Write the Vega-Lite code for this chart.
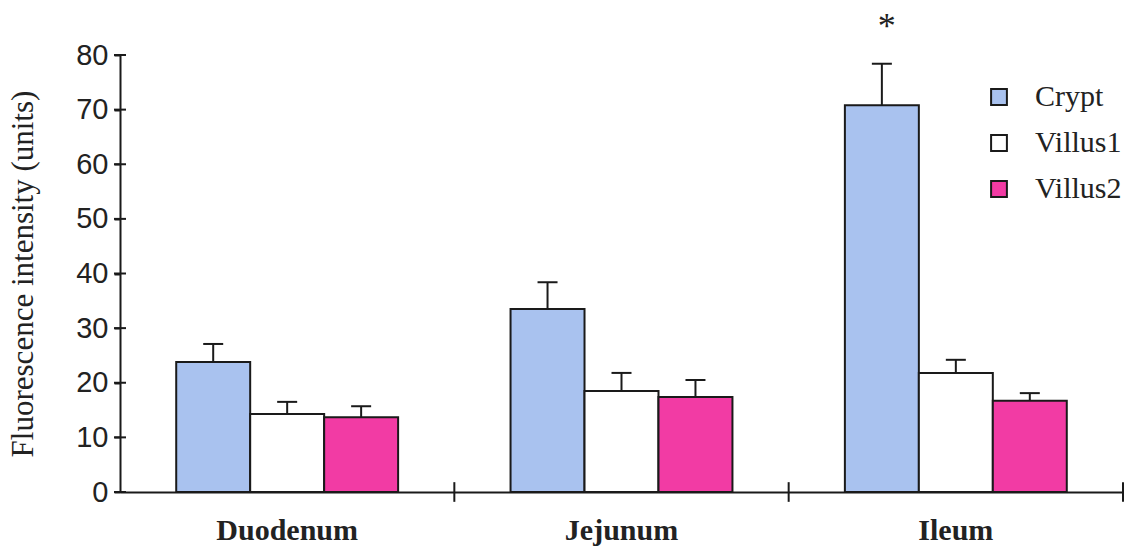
{
  "$schema": "https://vega.github.io/schema/vega-lite/v6.json",
  "width": 1003,
  "height": 437,
  "autosize": "none",
  "padding": {"left": 120, "top": 55, "right": 6, "bottom": 57},
  "background": "white",
  "config": {
    "view": {"stroke": null},
    "axis": {"domainColor": "#1a1a1a", "domainWidth": 2, "tickColor": "#1a1a1a", "tickWidth": 2, "grid": false},
    "legend": {
      "orient": "none", "legendX": 864, "legendY": 27,
      "labelFont": "Liberation Serif", "labelFontSize": 30, "labelColor": "#222",
      "symbolType": "square", "symbolSize": 250, "symbolStrokeWidth": 2, "symbolStrokeColor": "#1a1a1a",
      "rowPadding": 16, "labelOffset": 21
    }
  },
  "datasets": {
    "bars": [
      {"region": "Duodenum", "group": "Crypt", "value": 23.8, "upper": 27.1},
      {"region": "Duodenum", "group": "Villus1", "value": 14.3, "upper": 16.5},
      {"region": "Duodenum", "group": "Villus2", "value": 13.7, "upper": 15.7},
      {"region": "Jejunum", "group": "Crypt", "value": 33.5, "upper": 38.4},
      {"region": "Jejunum", "group": "Villus1", "value": 18.5, "upper": 21.8},
      {"region": "Jejunum", "group": "Villus2", "value": 17.4, "upper": 20.5},
      {"region": "Ileum", "group": "Crypt", "value": 70.8, "upper": 78.4},
      {"region": "Ileum", "group": "Villus1", "value": 21.8, "upper": 24.2},
      {"region": "Ileum", "group": "Villus2", "value": 16.7, "upper": 18.1}
    ],
    "seps": [
      {"region": "Duodenum", "lo": -1.8, "hi": 1.8},
      {"region": "Jejunum", "lo": -1.8, "hi": 1.8},
      {"region": "Ileum", "lo": -1.8, "hi": 1.8}
    ],
    "yticks": [
      {"region": "Duodenum", "v": 0}, {"region": "Duodenum", "v": 10}, {"region": "Duodenum", "v": 20},
      {"region": "Duodenum", "v": 30}, {"region": "Duodenum", "v": 40}, {"region": "Duodenum", "v": 50},
      {"region": "Duodenum", "v": 60}, {"region": "Duodenum", "v": 70}, {"region": "Duodenum", "v": 80}
    ],
    "stars": [
      {"region": "Ileum", "group": "Crypt", "label": "*", "pos": 85.2}
    ]
  },
  "layer": [
    {
      "data": {"name": "bars"},
      "mark": {"type": "bar", "stroke": "#1a1a1a", "strokeWidth": 2},
      "encoding": {
        "x": {
          "field": "region", "type": "nominal",
          "scale": {"domain": ["Duodenum", "Jejunum", "Ileum"], "paddingInner": 0, "paddingOuter": 0},
          "axis": {"title": null, "ticks": false, "labelAngle": 0, "labelFont": "Liberation Serif", "labelFontWeight": "bold", "labelFontSize": 30, "labelColor": "#222", "labelPadding": 23}
        },
        "xOffset": {
          "field": "group", "type": "nominal",
          "scale": {"domain": ["Crypt", "Villus1", "Villus2"], "paddingInner": 0, "paddingOuter": 0.76}
        },
        "y": {
          "field": "value", "type": "quantitative",
          "scale": {"domain": [0, 80], "nice": false},
          "axis": {
            "values": [0, 10, 20, 30, 40, 50, 60, 70, 80],
            "title": "Fluorescence intensity (units)",
            "titleFont": "Liberation Serif", "titleFontSize": 31, "titleFontWeight": "normal", "titleColor": "#222", "titlePadding": 36,
            "labelFont": "Liberation Sans", "labelFontSize": 29, "labelColor": "#222", "labelPadding": 6, "tickSize": 6
          }
        },
        "color": {
          "field": "group", "type": "nominal",
          "scale": {"domain": ["Crypt", "Villus1", "Villus2"], "range": ["#a9c2ef", "#ffffff", "#f23ba4"]},
          "legend": {
            "title": null,
            "encoding": {
              "symbols": {
                "fill": {"signal": "datum.value === 'Crypt' ? '#3a3a3a' : (datum.value === 'Villus1' ? '#ffffff' : '#9e3a82')"},
                "stroke": {"signal": "datum.value === 'Villus2' ? '#9e3a82' : '#1a1a1a'"}
              }
            }
          }
        }
      }
    },
    {
      "data": {"name": "bars"},
      "mark": {"type": "rule", "stroke": "#1a1a1a", "strokeWidth": 2},
      "encoding": {
        "x": {"field": "region", "type": "nominal", "scale": {"domain": ["Duodenum", "Jejunum", "Ileum"]}},
        "xOffset": {"field": "group", "type": "nominal", "scale": {"domain": ["Crypt", "Villus1", "Villus2"]}},
        "y": {"field": "value", "type": "quantitative"},
        "y2": {"field": "upper"}
      }
    },
    {
      "data": {"name": "bars"},
      "mark": {"type": "tick", "color": "#1a1a1a", "size": 20, "thickness": 2, "opacity": 1, "orient": "horizontal"},
      "encoding": {
        "x": {"field": "region", "type": "nominal", "scale": {"domain": ["Duodenum", "Jejunum", "Ileum"]}},
        "xOffset": {"field": "group", "type": "nominal", "scale": {"domain": ["Crypt", "Villus1", "Villus2"]}},
        "y": {"field": "upper", "type": "quantitative"}
      }
    },
    {
      "data": {"name": "yticks"},
      "mark": {"type": "point", "shape": "M-1,0L1,0", "filled": false, "stroke": "#1a1a1a", "strokeWidth": 2, "size": 144, "opacity": 1},
      "encoding": {
        "x": {"field": "region", "type": "nominal", "bandPosition": 0, "scale": {"domain": ["Duodenum", "Jejunum", "Ileum"]}},
        "y": {"field": "v", "type": "quantitative"}
      }
    },
    {
      "data": {"name": "seps"},
      "mark": {"type": "rule", "stroke": "#1a1a1a", "strokeWidth": 2},
      "encoding": {
        "x": {"field": "region", "type": "nominal", "bandPosition": 1, "scale": {"domain": ["Duodenum", "Jejunum", "Ileum"]}},
        "y": {"field": "lo", "type": "quantitative"},
        "y2": {"field": "hi"}
      }
    },
    {
      "data": {"name": "stars"},
      "mark": {"type": "text", "font": "Liberation Serif", "fontSize": 36, "color": "#222", "baseline": "middle", "align": "center", "dx": 5},
      "encoding": {
        "x": {"field": "region", "type": "nominal", "scale": {"domain": ["Duodenum", "Jejunum", "Ileum"]}},
        "xOffset": {"field": "group", "type": "nominal", "scale": {"domain": ["Crypt", "Villus1", "Villus2"]}},
        "y": {"field": "pos", "type": "quantitative"},
        "text": {"field": "label"}
      }
    }
  ]
}
